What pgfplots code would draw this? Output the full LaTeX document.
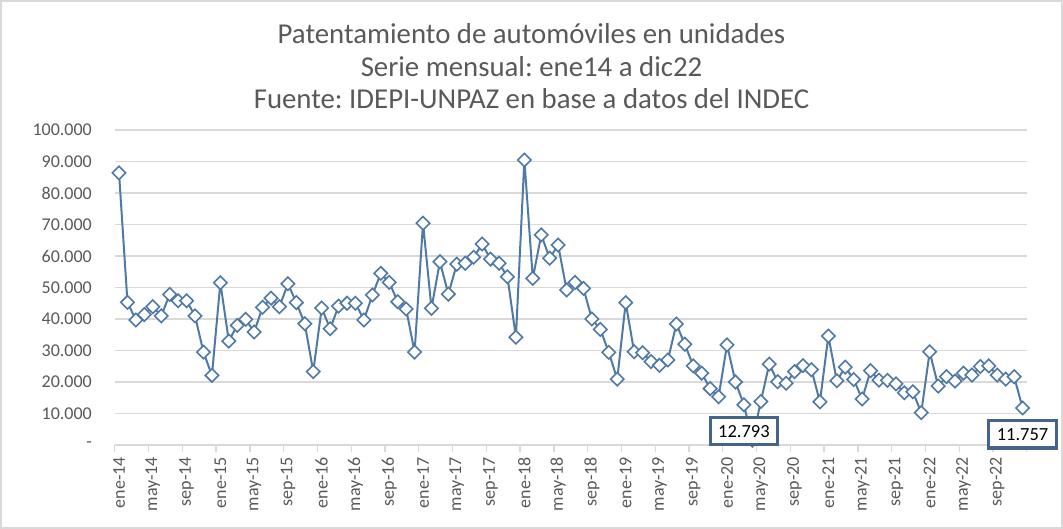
\documentclass[border=0pt]{standalone}
\usepackage{fontspec}
\setmainfont{Carlito}
\usepackage{pgfplots}
\usepackage{pgfplotstable}
\pgfplotsset{compat=1.18}
\frenchspacing
\definecolor{ser}{RGB}{80,122,165}
\definecolor{gridc}{RGB}{217,217,217}
\definecolor{txt}{RGB}{89,89,89}
\definecolor{lbl}{RGB}{68,100,140}
\pgfplotstableread{
i v
0 86400
1 45300
2 39700
3 41400
4 43900
5 41000
6 47800
7 45800
8 45800
9 41000
10 29500
11 22100
12 51500
13 33000
14 38000
15 39900
16 35900
17 43700
18 46600
19 43900
20 51200
21 45200
22 38500
23 23300
24 43500
25 36900
26 44100
27 45000
28 45000
29 39700
30 47600
31 54500
32 51600
33 45500
34 43200
35 29500
36 70400
37 43400
38 58200
39 47900
40 57400
41 57700
42 59600
43 63800
44 59000
45 57700
46 53400
47 34200
48 90500
49 52900
50 66700
51 59300
52 63500
53 49200
54 51600
55 49700
56 40000
57 36700
58 29400
59 20900
60 45200
61 29600
62 29300
63 26500
64 25300
65 27000
66 38400
67 32000
68 25100
69 22800
70 17900
71 15300
72 31800
73 20000
74 12793
75 1500
76 13800
77 25700
78 20100
79 19600
80 23300
81 25200
82 23900
83 13700
84 34600
85 20400
86 24700
87 20800
88 14600
89 23600
90 20600
91 20500
92 19400
93 16600
94 16900
95 10300
96 29600
97 18700
98 21700
99 20300
100 22800
101 22200
102 24900
103 25100
104 22200
105 20900
106 21700
107 11757
}\datatable
\begin{document}
\begin{tikzpicture}
\useasboundingbox (0bp,0bp) rectangle (1063bp,529bp);
\fill[white] (0bp,0bp) rectangle (1063bp,529bp);
\draw[gridc, line width=1.5bp] (1bp,1bp) rectangle (1062bp,528bp);
\node[anchor=base, text=txt, font=\fontsize{28.8bp}{32bp}\selectfont, inner sep=0pt] at (531.5bp,485bp) {Patentamiento de automóviles en unidades};
\node[anchor=base, text=txt, font=\fontsize{28.8bp}{32bp}\selectfont, inner sep=0pt] at (531.5bp,452.5bp) {Serie mensual: ene14 a dic22};
\node[anchor=base, text=txt, font=\fontsize{28.8bp}{32bp}\selectfont, inner sep=0pt] at (531.5bp,420bp) {Fuente: IDEPI-UNPAZ en base a datos del INDEC};
\begin{axis}[
  at={(114.8bp,84bp)}, anchor=south west,
  scale only axis, width=912bp, height=315bp,
  xmin=-0.5, xmax=107.5, ymin=0, ymax=100000,
  clip=false,
  scaled y ticks=false,
  axis x line*=bottom, axis y line*=left,
  y axis line style={draw=none},
  x axis line style={gridc, line width=1.3bp},
  ymajorgrids, grid style={gridc, line width=1.3bp},
  ytick={0,10000,20000,30000,40000,50000,60000,70000,80000,90000,100000},
  yticklabels={-\hspace{3bp},10.000,20.000,30.000,40.000,50.000,60.000,70.000,80.000,90.000,100.000},
  yticklabel style={anchor=east, inner sep=0pt, xshift=-22.8bp, text=txt, font=\fontsize{18bp}{21bp}\selectfont},
  ytick style={draw=none},
  xtick={0,4,...,104},
  xticklabels={ene-14,may-14,sep-14,ene-15,may-15,sep-15,ene-16,may-16,sep-16,ene-17,may-17,sep-17,ene-18,may-18,sep-18,ene-19,may-19,sep-19,ene-20,may-20,sep-20,ene-21,may-21,sep-21,ene-22,may-22,sep-22},
  xticklabel style={rotate=90, anchor=east, inner sep=0pt, xshift=-12bp, text=txt, font=\fontsize{18bp}{21bp}\selectfont},
  xtick style={draw=none},
  extra x ticks={-0.5,3.5,...,107.5},
  extra x tick labels={},
  extra x tick style={xtick style={draw=gridc, line width=1.3bp}, major tick length=7bp, tick align=outside},
]
\addplot[ser, line width=2bp, mark=square*, mark size=4.7bp,
  mark options={rotate=45, fill=white, draw=ser, line width=1.6bp}] table[x=i, y=v] {\datatable};
\addplot[draw=none, mark=none, nodes near coords, point meta=explicit symbolic,
  every node near coord/.append style={anchor=north, yshift=-11bp, draw=lbl, line width=3.2bp, fill=white, text=black,
  font=\fontsize{18.5bp}{21bp}\selectfont, inner xsep=8bp, inner ysep=7.5bp, text height=12.5bp, text depth=0bp}]
  coordinates {(74,12793)[12.793] (107,11757)[11.757]};
\end{axis}
\end{tikzpicture}
\end{document}
